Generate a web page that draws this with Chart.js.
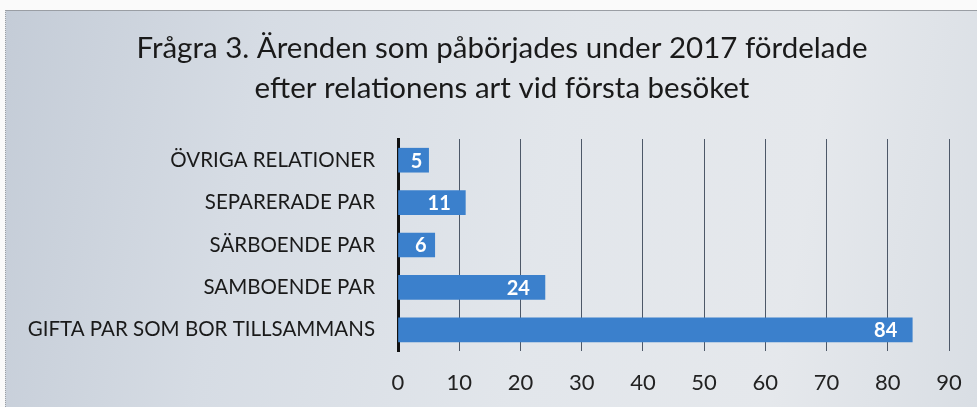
<!DOCTYPE html>
<html>
<head>
<meta charset="utf-8">
<script src="https://cdn.jsdelivr.net/npm/chart.js@4"></script>
<style>
  html, body { margin: 0; padding: 0; background: #ffffff; }
  #wrap { position: relative; width: 977px; height: 407px; overflow: hidden; background: #fafafa; }
  #bg { position: absolute; left: 5px; top: 10px; right: 0; bottom: 0;
        background: linear-gradient(100deg, #c4ccd7 0%, #d6dce4 25%, #e2e6eb 55%, #e5e8ec 80%, #d9dee4 100%);
        border-top: 1px solid #9a9ea4; border-left: 1px dotted #9a9ea4; }
  canvas { position: absolute; left: 0; top: 0; }
</style>
</head>
<body>
<div id="wrap">
  <div id="bg"></div>
  <canvas id="c" width="977" height="407"></canvas>
</div>
<script>
const titleLines = ["Frågra 3. Ärenden som påbörjades under 2017 fördelade", "efter relationens art vid första besöket"];
const categories = ["ÖVRIGA RELATIONER", "SEPARERADE PAR", "SÄRBOENDE PAR", "SAMBOENDE PAR", "GIFTA PAR SOM BOR TILLSAMMANS"];
const values = [5, 11, 6, 24, 84];
const xMin = 0, xMax = 90, xStep = 10;

const FONT = "Lato, 'Open Sans', sans-serif";

const valueLabels = {
  id: 'valueLabels',
  afterDatasetsDraw(chart) {
    const ctx = chart.ctx;
    const meta = chart.getDatasetMeta(0);
    ctx.save();
    ctx.font = "bold 20px " + FONT;
    ctx.fillStyle = "#ffffff";
    ctx.textBaseline = "middle";
    ctx.textAlign = "right";
    meta.data.forEach((bar, i) => {
      const txt = String(chart.data.datasets[0].data[i]);
      const w = ctx.measureText(txt).width;
      const bw = bar.x - bar.base;
      const off = Math.min(15, (bw - w) / 3);
      ctx.fillText(txt, bar.x - off, bar.y + 1);
    });
    ctx.restore();
  }
};

new Chart(document.getElementById('c'), {
  type: 'bar',
  data: {
    labels: categories,
    datasets: [{
      data: values,
      backgroundColor: '#3b80cc',
      barThickness: 24,
      borderWidth: 0
    }]
  },
  options: {
    indexAxis: 'y',
    responsive: false,
    animation: false,
    layout: { padding: { left: 55, right: 28, top: 28, bottom: 12 } },
    plugins: {
      legend: { display: false },
      tooltip: { enabled: false },
      title: {
        display: true,
        text: titleLines,
        color: '#1a1a1a',
        font: { family: FONT, size: 29.5, weight: 'normal', lineHeight: '40px' },
        padding: { top: 0, bottom: 31 }
      }
    },
    scales: {
      x: {
        min: xMin, max: xMax,
        ticks: { stepSize: xStep, color: '#222', font: { family: FONT, size: 22 }, padding: 19 },
        grid: { color: '#4d5868', lineWidth: 1, drawTicks: false },
        border: { display: false },
        afterFit(s) { s.height = 44; s.paddingRight = 0; s.paddingLeft = 0; }
      },
      y: {
        ticks: { color: '#1a1a1a', font: { family: FONT, size: 20.5 }, padding: 23 },
        grid: { display: false, drawTicks: false },
        border: { display: true, color: '#111', width: 3 },
        afterFit(s) { s.width = 343; s._computeLabelArea = () => undefined; }
      }
    }
  },
  plugins: [valueLabels]
});
</script>
</body>
</html>
